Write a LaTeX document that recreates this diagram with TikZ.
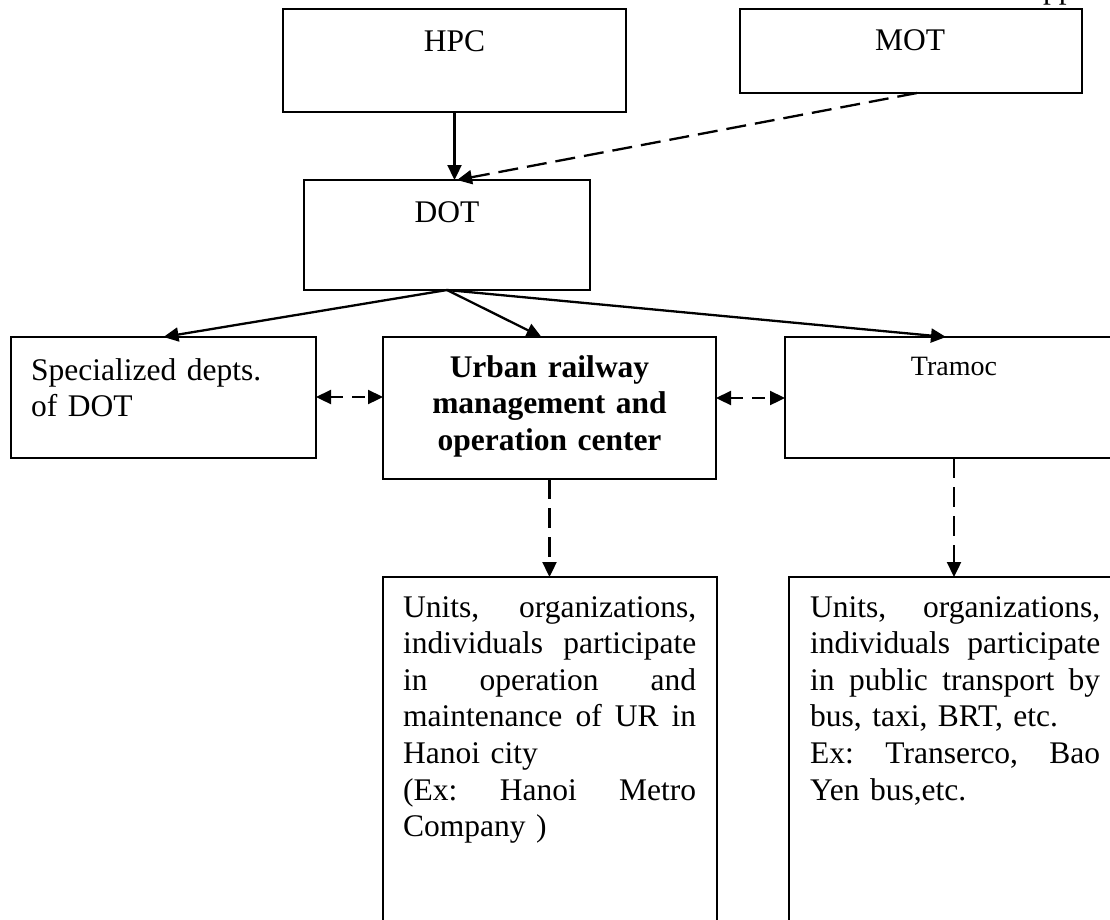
\documentclass[tikz,border=0pt]{standalone}
\usepackage{fontspec}
\setmainfont{Liberation Serif}
\usetikzlibrary{arrows.meta}
% a justified line: words spread with \hfill over a given width
\newcommand\jline[2]{\leavevmode\hbox to #1{#2}}
\begin{document}
\begin{tikzpicture}[x=1pt,y=-1pt,
  box/.style={draw, line width=2.7pt, rectangle, inner sep=0pt, outer sep=0pt, anchor=north west},
  lbl/.style={inner sep=0pt, font=\fontsize{31.5}{36.6}\selectfont\frenchspacing},
  conn/.style={line width=2.3pt, -{Triangle[length=15pt,width=14pt]}},
  dconn/.style={conn, dash pattern=on 20pt off 9pt},
  biconn/.style={line width=2.3pt, {Triangle[length=15pt,width=14pt]}-{Triangle[length=15pt,width=14pt]}, dash pattern=on 13pt off 9pt}]
\useasboundingbox (0,0) rectangle (1110,919);
\clip (0,0) rectangle (1110,919);

% boxes
\node[box, minimum width=343pt, minimum height=103pt] (hpc) at (283,9) {};
\node[box, minimum width=342pt, minimum height=84pt] (mot) at (740,9) {};
\node[box, minimum width=286pt, minimum height=110pt] (dot) at (304,180) {};
\node[box, minimum width=305pt, minimum height=121pt] (spec) at (11,337) {};
\node[box, minimum width=333pt, minimum height=142pt] (urban) at (383,337) {};
\node[box, minimum width=338pt, minimum height=121pt] (tramoc) at (785,337) {};
\node[box, minimum width=334pt, minimum height=400pt] (ur) at (383,577) {};
\node[box, minimum width=332pt, minimum height=400pt] (pt) at (789,577) {};

% running header fragment at the top edge
\node[lbl, anchor=base west] (hdr) at (1043,-2) {pp};

% labels
\node[lbl, anchor=base] (hpct) at (454.5,51) {HPC};
\node[lbl, anchor=base] (mott) at (910,50) {MOT};
\node[lbl, anchor=base] (dott) at (447,222) {DOT};
\node[lbl, anchor=base west, text width=280pt, align=left] (spect) at (31,380)
  {Specialized depts.\\of DOT};
\node[lbl, anchor=base, text width=330pt, align=center, font=\fontsize{31.5}{36.6}\selectfont\bfseries] (urbant) at (549.5,377)
  {Urban railway\\management and\\operation center};
\node[lbl, anchor=base, font=\fontsize{28}{33}\selectfont] (tramoct) at (954,375) {Tramoc};
\node[lbl, anchor=base west, text width=293pt] (urt) at (403,617)
  {\jline{293pt}{Units, \hfill organizations,}\\
   \jline{293pt}{individuals \hfill participate}\\
   \jline{293pt}{in \hfill operation \hfill and}\\
   \jline{293pt}{maintenance \hfill of \hfill UR \hfill in}\\
   Hanoi city\\
   \jline{293pt}{(Ex: \hfill Hanoi \hfill Metro}\\
   Company )};
\node[lbl, anchor=base west, text width=290pt] (ptt) at (810,617)
  {\jline{290pt}{Units, \hfill organizations,}\\
   \jline{290pt}{individuals \hfill participate}\\
   \jline{290pt}{in \hfill public \hfill transport \hfill by}\\
   bus, taxi, BRT, etc.\\
   \jline{290pt}{Ex: \hfill Transerco, \hfill Bao}\\
   Yen bus,etc.};

% connectors
\draw[conn] (hpc.south) -- (hpc.south |- dot.north);
\draw[dconn] ([xshift=6pt]mot.south) -- ([xshift=10pt]dot.north);
\draw[conn] (dot.south) -- (spec.north);
\draw[conn] (dot.south) -- ([xshift=-8pt]urban.north);
\draw[conn] (dot.south) -- ([xshift=-8pt]tramoc.north);
\draw[biconn] ([yshift=-60pt]spec.north east) -- ([yshift=-60pt]urban.north west);
\draw[biconn] ([yshift=-61pt]urban.north east) -- ([yshift=-61pt]tramoc.north west);
\draw[dconn] (urban.south) -- (urban.south |- ur.north);
\draw[dconn] (tramoc.south) -- (tramoc.south |- pt.north);
\end{tikzpicture}
\end{document}
